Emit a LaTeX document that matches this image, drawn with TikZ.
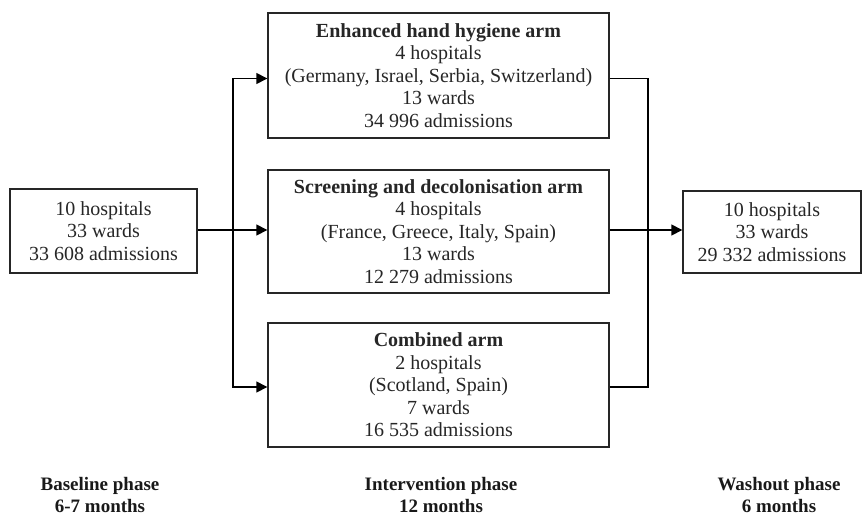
\documentclass[tikz,border=0pt]{standalone}
\usepackage{fontspec}
\setmainfont{Liberation Serif}
\usetikzlibrary{arrows.meta}
\tikzset{
  box/.style={draw=black!85, line width=1.4pt, align=center, inner sep=0pt,
    font=\fontsize{20}{22.5}\selectfont, text=black!85},
  conn/.style={line width=1.5pt, draw=black},
  arr/.style={conn, -{Triangle[length=11pt,width=11pt]}},
  phase/.style={align=center, font=\fontsize{19}{22}\selectfont\bfseries, text=black!90}
}
\begin{document}
\begin{tikzpicture}[x=1pt,y=-1pt]
\useasboundingbox (0,0) rectangle (862,517);
\node[box, minimum width=187pt, minimum height=84pt] (base) at (103.5,231)
  {10 hospitals\\33 wards\\33 608 admissions};
\node[box, minimum width=341pt, minimum height=125pt] (hyg) at (438.5,75.5)
  {\textbf{Enhanced hand hygiene arm}\\4 hospitals\\(Germany, Israel, Serbia, Switzerland)\\13 wards\\34 996 admissions};
\node[box, minimum width=341pt, minimum height=123pt] (scr) at (438.5,231.5)
  {\textbf{Screening and decolonisation arm}\\4 hospitals\\(France, Greece, Italy, Spain)\\13 wards\\12 279 admissions};
\node[box, minimum width=341pt, minimum height=124pt] (comb) at (438.5,385)
  {\textbf{Combined arm}\\2 hospitals\\(Scotland, Spain)\\7 wards\\16 535 admissions};
\node[box, minimum width=178pt, minimum height=82pt] (wash) at (772,232)
  {10 hospitals\\33 wards\\29 332 admissions};
\coordinate (bx) at (233,230);
\coordinate (mx) at (648,230);
\draw[arr] (base.east |- bx) -- (scr.west |- bx);
\draw[arr] (bx) |- ([yshift=-3pt]hyg.west);
\draw[arr] (bx) |- ([yshift=-2pt]comb.west);
\draw[conn] ([yshift=-3pt]hyg.east) -| (mx);
\draw[conn] ([yshift=-2pt]comb.east) -| (mx);
\draw[arr] (scr.east |- mx) -- (wash.west |- mx);
\node[phase] (p1) at (100,495) {Baseline phase\\6-7 months};
\node[phase] (p2) at (441,495) {Intervention phase\\12 months};
\node[phase] (p3) at (779,495) {Washout phase\\6 months};
\end{tikzpicture}
\end{document}
